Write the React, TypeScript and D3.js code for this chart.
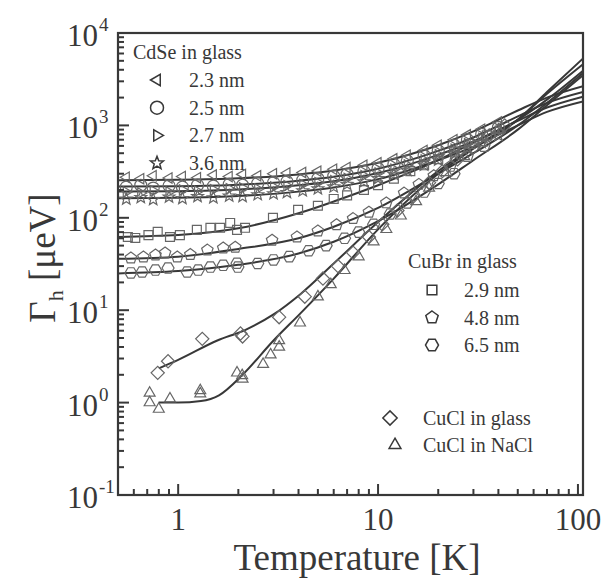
import React from 'react'
import * as d3 from 'd3'

const W = 607
const H = 578

// ---- fitted curves (T in K, Gamma_h in ueV) ----
const fitT = [0.5, 1, 2, 4, 6, 10, 20, 30, 50, 70, 106]
const fitCdSe23 = [255, 258, 268, 295, 325, 395, 610, 860, 1450, 2000, 2650]
const fitCdSe25 = [218, 220, 228, 252, 278, 340, 530, 740, 1250, 1750, 2300]
const fitCdSe27 = [192, 194, 202, 225, 248, 305, 480, 670, 1120, 1560, 2050]
const fitCdSe36 = [163, 165, 172, 192, 213, 262, 420, 590, 1000, 1400, 1820]
const fitCuBr29 = [62, 65, 77, 112, 150, 225, 420, 650, 1150, 1900, 3900]
const fitCuBr48 = [36, 38, 46, 60, 80, 128, 300, 500, 1000, 1750, 3700]
const fitCuBr65 = [25, 26.5, 31, 41, 55, 92, 230, 420, 900, 1650, 3500]

const fitNaClT = [0.8, 1, 1.3, 1.6, 2.1, 3, 4.1, 6, 10, 20, 30, 50, 70, 106]
const fitNaCl = [1.0, 1.0, 1.04, 1.2, 2.0, 4.7, 9.3, 22, 75, 300, 560, 1150, 2300, 5300]
const fitGlassT = [0.8, 1, 1.57, 2.16, 3, 4.1, 6, 10, 20, 30, 50, 70, 106]
const fitGlass = [2.35, 2.9, 4.7, 6.1, 9, 15, 32, 90, 320, 580, 1150, 2200, 4600]

// ---- measured points ----
const cdseT = [0.55, 0.65, 0.75, 0.9, 1.05, 1.25, 1.5, 1.8, 2.1, 2.5, 3, 3.5, 4.2, 5, 6, 7, 8.5, 10, 12, 14, 17, 20, 24, 28, 33, 40]
const cdse23 = [275, 265, 285, 270, 280, 272, 290, 280, 295, 285, 300, 305, 310, 320, 335, 350, 370, 395, 435, 475, 535, 610, 700, 790, 910, 1090]
const cdse25 = [215, 225, 210, 222, 215, 226, 220, 230, 225, 236, 240, 246, 256, 266, 282, 296, 318, 342, 378, 412, 472, 532, 612, 700, 800, 950]
const cdse27 = [190, 186, 196, 190, 200, 194, 201, 206, 210, 205, 216, 222, 230, 240, 252, 266, 286, 306, 336, 372, 422, 482, 552, 632, 722, 862]
const cdse36 = [160, 166, 158, 168, 162, 170, 165, 172, 170, 178, 182, 188, 196, 206, 216, 230, 246, 266, 296, 326, 372, 422, 492, 562, 652, 782]

const cubr29T = [0.56, 0.61, 0.71, 0.79, 0.91, 1.02, 1.24, 1.45, 1.62, 1.82, 1.97, 2.16, 2.98, 3.98, 5, 6, 7, 8.5, 10, 12, 14.5, 17, 20, 24, 29, 35]
const cubr29 = [62, 60.5, 65, 70.5, 62, 65, 74, 78, 78, 88, 74, 78, 100, 122, 135, 160, 175, 200, 225, 265, 320, 370, 430, 520, 630, 780]
const cubr48T = [0.58, 0.67, 0.77, 0.86, 0.99, 1.15, 1.4, 1.68, 1.93, 2.95, 3.93, 5, 6.2, 7.5, 9, 11, 13.5, 16, 19, 23, 28, 34]
const cubr48 = [36.7, 37.6, 39.5, 41.5, 37.6, 40, 44.7, 47, 48, 57, 62, 72, 84, 98, 115, 145, 185, 230, 285, 360, 460, 590]
const cubr65T = [0.58, 0.66, 0.77, 0.89, 1.11, 1.26, 1.45, 1.68, 1.97, 1.99, 2.5, 3, 3.6, 4.5, 5.5, 6.8, 8, 9.5, 11.5, 14, 17, 20, 24]
const cubr65 = [25.3, 25.9, 27.2, 28.6, 25.9, 27.2, 29.3, 30.6, 32.2, 29.3, 32, 35, 38, 44, 50, 60, 70, 85, 110, 145, 190, 235, 300]

const glassT = [0.79, 0.89, 1.32, 2.05, 2.1, 3.2, 4.3, 5.3, 6.3, 7.5, 9, 10.5, 12.5, 15, 18, 21, 25, 30, 36, 43]
const glass = [2.1, 2.8, 4.9, 5.6, 5.2, 8.4, 14, 22, 30, 42, 62, 85, 120, 170, 240, 320, 430, 580, 780, 1000]
const naclT = [0.72, 0.72, 0.8, 0.91, 1.29, 1.29, 1.97, 2.09, 2.1, 2.66, 2.9, 3.2, 3.2, 4.07, 5, 5.8, 6.8, 8, 9.5, 11, 13, 15.5, 18, 22, 27, 33, 40]
const nacl = [1.27, 1.0, 0.85, 1.1, 1.35, 1.25, 2.1, 1.97, 1.8, 2.6, 3.3, 4.7, 4.0, 7.3, 14, 19, 27, 38, 55, 75, 105, 150, 210, 310, 460, 650, 900]

const xTickLabels = ['1', '10', '100']
const yExponents = ['-1', '0', '1', '2', '3', '4']

// marker shapes
type Shape = 'triL' | 'triR' | 'triU' | 'circle' | 'star' | 'square' | 'pent' | 'hex' | 'diamond'

const poly = (n: number, r: number, rot: number) => {
  const pts: [number, number][] = []
  for (let i = 0; i < n; i++) {
    const a = rot + (i * 2 * Math.PI) / n
    pts.push([r * Math.cos(a), r * Math.sin(a)])
  }
  return 'M' + pts.map(p => p.join(',')).join('L') + 'Z'
}

const shapePath = (s: Shape, r = 6): string => {
  switch (s) {
    case 'triL': return poly(3, r, Math.PI)
    case 'triR': return poly(3, r, 0)
    case 'triU': return poly(3, r * 1.05, -Math.PI / 2)
    case 'square': return poly(4, r * 1.05, Math.PI / 4)
    case 'diamond': return poly(4, r * 1.1, 0)
    case 'pent': return poly(5, r, -Math.PI / 2)
    case 'hex': return poly(6, r, 0)
    case 'circle': return `M${r},0A${r},${r} 0 1,1 ${-r},0A${r},${r} 0 1,1 ${r},0Z`
    case 'star': {
      const pts: string[] = []
      for (let i = 0; i < 10; i++) {
        const rr = i % 2 === 0 ? r * 1.05 : r * 0.45
        const a = -Math.PI / 2 + (i * Math.PI) / 5
        pts.push(`${rr * Math.cos(a)},${rr * Math.sin(a)}`)
      }
      return 'M' + pts.join('L') + 'Z'
    }
  }
}

const series: { t: number[]; v: number[]; shape: Shape }[] = [
  { t: cdseT, v: cdse23, shape: 'triL' },
  { t: cdseT, v: cdse25, shape: 'circle' },
  { t: cdseT, v: cdse27, shape: 'triR' },
  { t: cdseT, v: cdse36, shape: 'star' },
  { t: cubr29T, v: cubr29, shape: 'square' },
  { t: cubr48T, v: cubr48, shape: 'pent' },
  { t: cubr65T, v: cubr65, shape: 'hex' },
  { t: glassT, v: glass, shape: 'diamond' },
  { t: naclT, v: nacl, shape: 'triU' },
]

const fits: { t: number[]; v: number[] }[] = [
  { t: fitT, v: fitCdSe23 },
  { t: fitT, v: fitCdSe25 },
  { t: fitT, v: fitCdSe27 },
  { t: fitT, v: fitCdSe36 },
  { t: fitT, v: fitCuBr29 },
  { t: fitT, v: fitCuBr48 },
  { t: fitT, v: fitCuBr65 },
  { t: fitGlassT, v: fitGlass },
  { t: fitNaClT, v: fitNaCl },
]

const INK = '#383838'
const MARK = '#666'
const FONT = "'Liberation Serif', 'Times New Roman', Times, 'DejaVu Serif', serif"
const txt = { fontFamily: FONT }

export default function App() {
  const left = 118, right = 583, top = 33, bottom = 495
  const x = d3.scaleLog().domain([0.5, 106]).range([left, right])
  const y = d3.scaleLog().domain([0.1, 1e4]).range([bottom, top])

  const line = d3.line<[number, number]>()
    .x(d => x(d[0]))
    .y(d => y(d[1]))
    .curve(d3.curveMonotoneX)

  const xMinor: number[] = []
  for (let d = 0.1; d <= 100; d *= 10) {
    for (let k = 2; k <= 9; k++) {
      const v = d * k
      if (v >= 0.5 && v <= 106) xMinor.push(v)
    }
  }
  const yMinor: number[] = []
  for (let d = 0.1; d < 1e4; d *= 10) {
    for (let k = 2; k <= 9; k++) yMinor.push(d * k)
  }

  const cdseLegend: [Shape, string][] = [['triL', '2.3 nm'], ['circle', '2.5 nm'], ['triR', '2.7 nm'], ['star', '3.6 nm']]
  const cubrLegend: [Shape, string][] = [['square', '2.9 nm'], ['pent', '4.8 nm'], ['hex', '6.5 nm']]

  return (
    <svg width={W} height={H} style={{ display: 'block', position: 'absolute', left: 0, top: 0, fontFamily: FONT }}>
      <rect width={W} height={H} fill="#fff" />
      <defs>
        <clipPath id="plot"><rect x={left} y={top} width={right - left} height={bottom - top} /></clipPath>
      </defs>

      {/* fits */}
      <g clipPath="url(#plot)">
        {fits.map((f, i) => (
          <path key={i} d={line(f.t.map((t, j) => [t, f.v[j]] as [number, number])) || ''} fill="none" stroke={INK} strokeWidth={2} />
        ))}
      </g>

      {/* markers */}
      <g clipPath="url(#plot)">
        {series.map((s, i) => s.t.map((t, j) => (
          <path key={`${i}-${j}`} d={shapePath(s.shape)} transform={`translate(${x(t)},${y(s.v[j])})`} fill="none" stroke={MARK} strokeWidth={1.2} />
        )))}
      </g>

      {/* frame */}
      <rect x={left} y={top} width={right - left} height={bottom - top} fill="none" stroke={INK} strokeWidth={2.2} />

      {/* x ticks */}
      {[1, 10, 100].map(v => (
        <line key={v} x1={x(v)} x2={x(v)} y1={bottom} y2={bottom - 11} stroke={INK} strokeWidth={2} />
      ))}
      {xMinor.map(v => (
        <line key={v} x1={x(v)} x2={x(v)} y1={bottom} y2={bottom - 6} stroke={INK} strokeWidth={2} />
      ))}
      {xTickLabels.map(l => (
        <text key={l} style={txt} x={x(+l)} y={bottom + 35} textAnchor="middle" fontSize={31} fill={INK}>{l}</text>
      ))}

      {/* y ticks */}
      {yExponents.map(e => (
        <line key={e} x1={left} x2={left + 11} y1={y(Math.pow(10, +e))} y2={y(Math.pow(10, +e))} stroke={INK} strokeWidth={2} />
      ))}
      {yMinor.map(v => (
        <line key={v} x1={left} x2={left + 6} y1={y(v)} y2={y(v)} stroke={INK} strokeWidth={2} />
      ))}
      {yExponents.map(e => (
        <g key={e}>
          <text style={txt} x={98} y={y(Math.pow(10, +e)) + 13} textAnchor="end" fontSize={31} fill={INK}>10</text>
          <text style={txt} x={99} y={y(Math.pow(10, +e)) - 2} fontSize={19} fill={INK}>{e}</text>
        </g>
      ))}

      {/* axis titles */}
      <text style={txt} x={357} y={570} textAnchor="middle" fontSize={37} fill={INK}>Temperature [K]</text>
      <text style={txt} transform={`translate(55,258) rotate(-90)`} textAnchor="middle" fontSize={37} fill={INK}>
        Γ<tspan fontSize={22} dy={8}>h</tspan><tspan dy={-8}> [μeV]</tspan>
      </text>

      {/* CdSe legend */}
      <text style={txt} x={133} y={59} fontSize={20} fill={INK}>CdSe in glass</text>
      {cdseLegend.map(([s, l], i) => (
        <g key={l}>
          <path d={shapePath(s, 6.5)} transform={`translate(157,${80 + i * 27.7})`} fill="none" stroke={INK} strokeWidth={1.5} />
          <text style={txt} x={189} y={87 + i * 27.7} fontSize={20} fill={INK}>{l}</text>
        </g>
      ))}

      {/* CuBr legend */}
      <text style={txt} x={408} y={268} fontSize={20} fill={INK}>CuBr in glass</text>
      {cubrLegend.map(([s, l], i) => (
        <g key={l}>
          <path d={shapePath(s, 6.5)} transform={`translate(432,${290 + i * 27.5})`} fill="none" stroke={INK} strokeWidth={1.5} />
          <text style={txt} x={464} y={297 + i * 27.5} fontSize={20} fill={INK}>{l}</text>
        </g>
      ))}

      {/* CuCl legend */}
      <path d={shapePath('diamond', 6.5)} transform="translate(390,418)" fill="none" stroke={INK} strokeWidth={1.5} />
      <text style={txt} x={423} y={425} fontSize={20} fill={INK}>CuCl in glass</text>
      <path d={shapePath('triU', 6.5)} transform="translate(395,445)" fill="none" stroke={INK} strokeWidth={1.5} />
      <text style={txt} x={423} y={452} fontSize={20} fill={INK}>CuCl in NaCl</text>
    </svg>
  )
}
